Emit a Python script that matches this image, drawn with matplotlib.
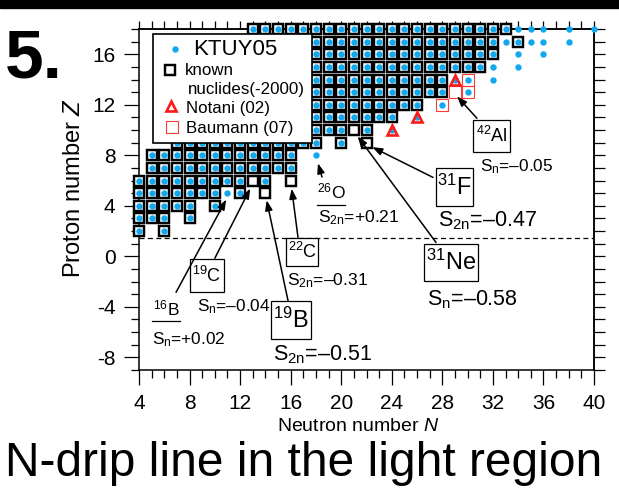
import matplotlib
matplotlib.use('Agg')
import matplotlib.pyplot as plt
from matplotlib.patches import Rectangle
from matplotlib.ticker import NullFormatter

plt.rcParams['font.family'] = ['Liberation Sans', 'DejaVu Sans']
plt.rcParams['mathtext.fontset'] = 'custom'
plt.rcParams['mathtext.rm'] = 'Liberation Sans'
plt.rcParams['mathtext.it'] = 'Liberation Sans:italic'
plt.rcParams['axes.unicode_minus'] = False

# ---------------- data ----------------
# known nuclides (-2000): row segments (Z, first N, last N)
known_Z     = [2, 2, 3, 3, 4, 4, 5, 5, 5, 6, 6, 7, 8, 9, 9, 9, 10, 11, 12, 13, 14, 15, 16, 17, 17, 18]
known_Nfrom = [4, 6, 4, 8, 4, 10, 4, 12, 14, 4, 16, 5, 5, 7, 20, 22, 7, 8, 8, 9, 8, 10, 11, 14, 34, 13]
known_Nto   = [4, 6, 6, 8, 8, 10, 10, 12, 14, 14, 16, 16, 16, 18, 20, 22, 22, 24, 26, 28, 28, 31, 32, 32, 34, 33]

# KTUY05: known nuclides predicted unbound (no dot)
unbound_N = [13, 16, 14, 21, 22]
unbound_Z = [6, 6, 5, 10, 9]
# KTUY05: predicted bound, not known before 2000
extra_N = [11, 18, 24, 26, 29, 30, 30, 28, 32, 32, 34, 34, 36, 33, 35, 36, 38, 34, 35, 36, 38, 40]
extra_Z = [5, 8, 10, 11, 14, 14, 13, 12, 14, 15, 15, 16, 16, 17, 17, 17, 17, 18, 18, 18, 18, 18]

# new observations
notani_N = [24, 26, 29]
notani_Z = [10, 11, 14]
baumann_N = [28, 29, 30, 30]
baumann_Z = [12, 13, 13, 14]

# annotated nuclides
ann_N = [11, 13, 14, 16, 18, 21, 22, 29]
ann_Z = [5, 6, 5, 6, 8, 10, 9, 13]

# -------------- expand --------------
kn_N, kn_Z = [], []
for z, a, b in zip(known_Z, known_Nfrom, known_Nto):
    for n in range(a, b + 1):
        kn_N.append(n)
        kn_Z.append(z)
unb = set(zip(unbound_N, unbound_Z))
kt_N = [n for n, z in zip(kn_N, kn_Z) if (n, z) not in unb] + extra_N
kt_Z = [z for n, z in zip(kn_N, kn_Z) if (n, z) not in unb] + extra_Z

BLUE = '#12A8EE'
RED = '#FF1A1A'
SQ_MS, SQ_MEW = 6.6, 1.75
DOT_MS = 4.6

fig = plt.figure(figsize=(6.19, 4.97), dpi=100)
ax = fig.add_axes([139/619, (497-370)/497, 455/619, 341/497])
ax.set_xlim(4, 40)
ax.set_ylim(-9, 18)

ax.plot(kn_N, kn_Z, ls='none', marker='s', ms=SQ_MS, mew=SQ_MEW, mec='black',
        mfc='white', zorder=3, clip_on=False)
ax.plot(baumann_N, baumann_Z, ls='none', marker='s', ms=8.6, mew=0.8,
        mec='#FF3838', mfc='none', zorder=3.5, clip_on=False)
ax.plot(kt_N, kt_Z, ls='none', marker='o', ms=DOT_MS, mew=0, color=BLUE,
        zorder=4, clip_on=False)
ax.plot(notani_N, notani_Z, ls='none', marker='^', ms=7, mew=1.9,
        mec=RED, mfc='none', zorder=5, clip_on=False)

ax.axhline(1.45, color='black', lw=0.9, ls=(0, (4, 2.7)), zorder=2)

# axes styling
for s in ax.spines.values():
    s.set_linewidth(1.1)
ax.set_xticks(range(4, 41, 4))
ax.set_xticks(range(4, 41), minor=True)
ax.set_yticks([-8, -4, 0, 4, 8, 12, 16])
ax.set_yticks(range(-9, 19), minor=True)
ax.tick_params(which='major', direction='out', length=11, width=0.9,
               labelsize=15, pad=6)
ax.tick_params(which='minor', direction='out', length=5.5, width=0.9)
secx = ax.secondary_xaxis('top')
secx.set_xticks(range(4, 41))
secx.xaxis.set_major_formatter(NullFormatter())
secx.tick_params(direction='out', length=5.5, width=0.9)
secx.spines['top'].set_linewidth(1.1)
secy = ax.secondary_yaxis('right')
secy.set_yticks(range(-9, 19))
secy.yaxis.set_major_formatter(NullFormatter())
secy.tick_params(direction='out', length=8, width=0.9)
secy.spines['right'].set_linewidth(1.1)

ax.set_xlabel('Neutron number $N$', fontsize=14)
ax.xaxis.set_label_coords(0.481, -0.141)
ax.set_ylabel('Proton number $Z$', fontsize=17)
ax.yaxis.set_label_coords(-0.119, 0.535)

# -------------- legend (manual) --------------
ax.add_patch(Rectangle((5.11, 8.97), 12.58, 8.65, fc='white', ec='black',
                       lw=1.2, zorder=6))
ax.plot([6.85], [16.39], marker='o', ms=DOT_MS, mew=0, color=BLUE, zorder=7)
ax.text(8.25, 15.94, 'KTUY05', fontsize=16, va='baseline', zorder=7)
ax.plot([6.45], [14.75], marker='s', ms=SQ_MS, mew=SQ_MEW, mec='black', mfc='white', zorder=7)
ax.text(7.64, 14.36, 'known', fontsize=12.2, va='baseline', zorder=7)
ax.text(7.9, 12.85, 'nuclides(-2000)', fontsize=12.2, va='baseline', zorder=7)
ax.plot([6.5], [11.9], marker='^', ms=7, mew=1.9, mec=RED, mfc='none', zorder=7)
ax.text(7.69, 11.37, 'Notani (02)', fontsize=12.2, va='baseline', zorder=7)
ax.plot([6.59], [10.22], marker='s', ms=8.6, mew=0.8, mec='#FF3838', mfc='none', zorder=7)
ax.text(7.69, 9.74, 'Baumann (07)', fontsize=12.2, va='baseline', zorder=7)

# -------------- annotations --------------
tip_dN = [-0.1, -0.2, 0.1, 0.08, 0.16, 0.3, 0.45, 0.16]
tip_dZ = [-0.5, -0.63, -0.56, -0.64, -0.63, -0.5, -0.35, -0.33]
tail_N = [6.93, 10.0, 15.8, 16.58, 18.48, 27.5, 27.26, 30.74]
tail_Z = [-2.85, -0.15, -3.55, 1.5, 6.28, 1.1, 6.25, 10.93]
for n, z, dn, dz, tn, tz in zip(ann_N, ann_Z, tip_dN, tip_dZ, tail_N, tail_Z):
    ax.annotate('', xy=(n + dn, z + dz), xytext=(tn, tz), zorder=8,
                arrowprops=dict(arrowstyle='-|>,head_length=0.6,head_width=0.22',
                                mutation_scale=10, lw=1.1, color='black',
                                shrinkA=0, shrinkB=0))

# boxed labels: (N0, N1, Z0, Z1, text, size)
boxes = [
    (8.03, 10.72, -2.82, -0.21, '$^{19}$C', 13),
    (15.63, 18.16, -0.77, 1.45, '$^{22}$C', 13),
    (14.44, 17.61, -6.55, -3.54, '$^{19}$B', 17),
    (27.5, 30.42, 3.99, 7.0, '$^{31}$F', 17),
    (26.55, 30.82, -1.95, 0.98, '$^{31}$Ne', 17),
    (30.42, 33.35, 8.26, 10.8, '$^{42}$Al', 13),
]
for n0, n1, z0, z1, t, fs in boxes:
    ax.add_patch(Rectangle((n0, z0), n1 - n0, z1 - z0, fc='white', ec='black',
                           lw=0.9, zorder=7))
    ax.text((n0 + n1) / 2, (z0 + z1) / 2, t, fontsize=fs, ha='center',
            va='center', zorder=8)

# underlined labels
ax.text(6.14, -4.64, '$^{16}$B', fontsize=12.5, ha='center', va='baseline', zorder=8)
ax.plot([5.05, 7.24], [-5.12, -5.12], color='black', lw=0.9, zorder=8)
ax.text(19.2, 4.62, '$^{26}$O', fontsize=12.5, ha='center', va='baseline', zorder=8)
ax.plot([18.1, 20.3], [4.06, 4.06], color='black', lw=0.9, zorder=8)

# separation energies: (N_left, Z_baseline, text, size)
sep = [
    (5.0, -6.94, 'S$_\\mathrm{n}$=+0.02', 12.4),
    (8.56, -4.38, 'S$_\\mathrm{n}$=–0.04', 12.4),
    (14.63, -8.21, 'S$_\\mathrm{2n}$=–0.51', 15.5),
    (15.71, -2.27, 'S$_\\mathrm{2n}$=–0.31', 12.6),
    (18.16, 2.66, 'S$_\\mathrm{2n}$=+0.21', 12.6),
    (27.65, 2.4, 'S$_\\mathrm{2n}$=–0.47', 15.5),
    (26.78, -3.85, 'S$_\\mathrm{n}$=–0.58', 15.5),
    (30.98, 6.7, 'S$_\\mathrm{n}$=–0.05', 12.4),
]
for n, z, t, fs in sep:
    ax.text(n, z, t, fontsize=fs, ha='left', va='baseline', zorder=8)

# -------------- figure texts --------------
fig.add_artist(Rectangle((0, 1 - 8/497), 1, 8/497, transform=fig.transFigure,
                         color='black'))
fig.text(5/619, (497-78)/497, '5.', fontsize=50, fontweight='bold',
         ha='left', va='baseline')
fig.text(5/619, (497-476)/497, 'N-drip line in the light region', fontsize=34.5,
         ha='left', va='baseline')

fig.savefig('out.png', dpi=100)
